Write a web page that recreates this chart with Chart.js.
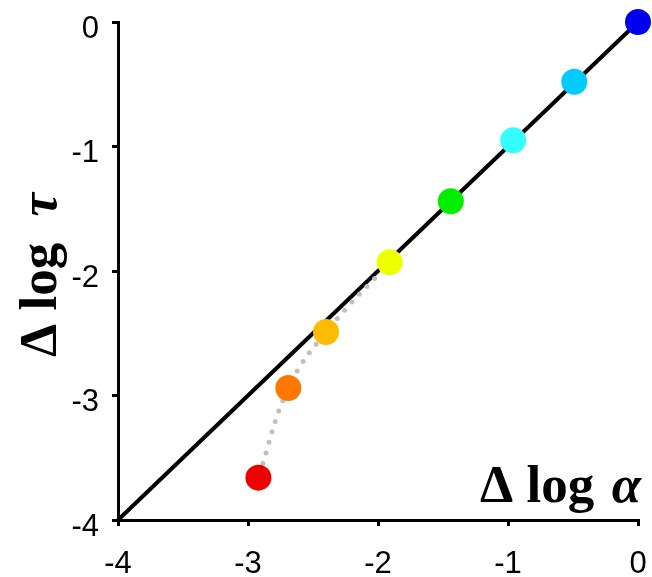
<!DOCTYPE html>
<html>
<head>
<meta charset="utf-8">
<script src="https://cdn.jsdelivr.net/npm/chart.js@4.4.1/dist/chart.umd.min.js"></script>
<style>
  html, body { margin: 0; padding: 0; background: #fff; }
  #wrap { width: 652px; height: 577px; }
</style>
</head>
<body>
<div id="wrap"><canvas id="myChart" width="652" height="577"></canvas></div>
<script>
// values
const alphaShift = [0, -0.49, -0.96, -1.44, -1.91, -2.40, -2.69, -2.92];
const tauShift = [0, -0.48, -0.95, -1.44, -1.93, -2.49, -2.94, -3.66];
const pointColors = ['#0000ee', '#00ccff', '#33ffff', '#00ee00', '#eeff00', '#ffbb00', '#ff7700', '#ee0000'];
const diagX = [-4, 0];
const diagY = [-4, 0];
const curveStart = 4; // dotted curve runs from the yellow point to the red one
const tickValues = [-4, -3, -2, -1, 0];
const tickLabels = ['-4', '-3', '-2', '-1', '0'];

const pts = alphaShift.map((x, i) => ({ x: x, y: tauShift[i] }));
const curve = pts.slice(curveStart);
const diag = diagX.map((x, i) => ({ x: x, y: diagY[i] }));

// axis titles: "Δ log" upright bold, greek letter italic
const titles = {
  id: 'titles',
  afterDraw(chart) {
    const c = chart.ctx;
    const up = 'bold 53px "Liberation Serif", "Times New Roman", serif';
    const it = 'italic bold 53px "Liberation Serif", "Times New Roman", serif';
    function title(greek, len) {
      c.font = up;
      c.textAlign = 'left';
      c.fillText('\u0394 log', 0, 0);
      c.font = it;
      c.textAlign = 'right';
      c.fillText(greek, len, 0);
    }
    c.save();
    c.fillStyle = '#000';
    c.textBaseline = 'alphabetic';
    // x title, inside the plot at bottom right
    c.save();
    c.translate(480, 502);
    title('\u03b1', 161);
    c.restore();
    // y title, rotated
    c.translate(56, 357);
    c.rotate(-Math.PI / 2);
    title('\u03c4', 164);
    c.restore();
  }
};

// keep the plot box fixed, whatever the labels want
const fixBox = (s) => {
  s.paddingTop = 0; s.paddingBottom = 0; s.paddingLeft = 0; s.paddingRight = 0;
};

const axis = (extra) => Object.assign({
  type: 'linear',
  min: -4,
  max: 0,
  afterBuildTicks: (s) => { s.ticks = tickValues.map(v => ({ value: v })); },
  grid: {
    drawOnChartArea: false,
    drawTicks: true,
    tickLength: 6,
    color: '#000',
    lineWidth: 3
  },
  border: { color: '#000', width: 3 }
}, extra);

const tickFont = { family: '"Liberation Sans", Arial, sans-serif', size: 31 };
const fmt = (v) => tickLabels[tickValues.indexOf(v)];

const ctx = document.getElementById('myChart');
new Chart(ctx, {
  type: 'scatter',
  data: {
    datasets: [{
      data: pts,
      pointRadius: 13,
      pointHoverRadius: 13,
      pointBorderWidth: 0,
      pointBackgroundColor: pointColors,
      showLine: false,
      clip: false
    }, {
      data: curve,
      showLine: true,
      pointRadius: 0,
      borderColor: '#c0c0c0',
      borderWidth: 5,
      borderDash: [0, 11],
      borderCapStyle: 'round',
      tension: 0.4,
      clip: false
    }, {
      data: diag,
      showLine: true,
      pointRadius: 0,
      borderColor: '#000',
      borderWidth: 4,
      clip: false
    }]
  },
  options: {
    responsive: false,
    animation: false,
    layout: { padding: { top: 22, right: 14, left: 0, bottom: 0 } },
    scales: {
      x: axis({
        ticks: { color: '#000', font: tickFont, padding: 20, callback: fmt },
        afterFit: (s) => { s.height = 57; fixBox(s); }
      }),
      y: axis({
        ticks: { color: '#000', font: tickFont, padding: 13, labelOffset: 7, callback: fmt },
        afterFit: (s) => { s.width = 118; fixBox(s); }
      })
    },
    plugins: {
      legend: { display: false },
      tooltip: { enabled: false }
    }
  },
  plugins: [titles]
});
</script>
</body>
</html>
